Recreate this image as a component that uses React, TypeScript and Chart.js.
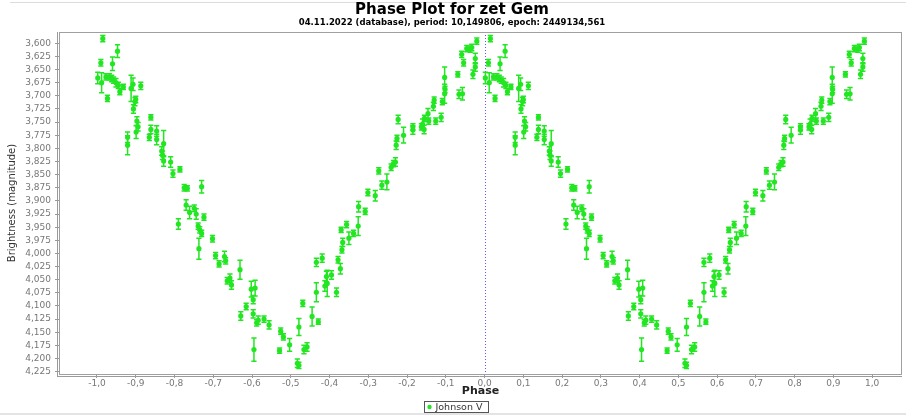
import { useEffect, useRef } from 'react';
import { Chart, registerables } from 'chart.js';

Chart.register(...registerables);

const TITLE = 'Phase Plot for zet Gem';
const SUBTITLE = '04.11.2022 (database), period: 10,149806, epoch: 2449134,561';
const SERIES_NAME = 'Johnson V';
const X_LABEL = 'Phase';
const Y_LABEL = 'Brightness (magnitude)';

// Observations: phase in [0,1), magnitude, magnitude error
const phases = [
  0.015, 0.053, 0.010, 0.040, 0.002, 0.012, 0.023, 0.032, 0.038, 0.043,
  0.049, 0.055, 0.059, 0.068, 0.027, 0.088, 0.093, 0.113, 0.094, 0.098,
  0.100, 0.103, 0.106, 0.101, 0.079, 0.079, 0.139, 0.139, 0.135, 0.154,
  0.154, 0.167, 0.169, 0.172, 0.172, 0.190, 0.196, 0.214, 0.225, 0.233,
  0.270, 0.230, 0.239, 0.251, 0.256, 0.276, 0.210, 0.261, 0.265, 0.270,
  0.263, 0.298, 0.306, 0.315, 0.329, 0.332, 0.369, 0.336, 0.343, 0.347,
  0.398, 0.408, 0.403, 0.385, 0.371, 0.403, 0.412, 0.416, 0.431, 0.444,
  0.405, 0.474, 0.481, 0.471, 0.497, 0.517, 0.521, 0.521, 0.531, 0.534,
  0.542, 0.555, 0.566, 0.571, 0.588, 0.592, 0.594, 0.605, 0.618, 0.566,
  0.581, 0.622, 0.628, 0.632, 0.634, 0.630, 0.644, 0.650, 0.662, 0.674,
  0.675, 0.692, 0.699, 0.718, 0.727, 0.735, 0.748, 0.759, 0.765, 0.770,
  0.772, 0.774, 0.777, 0.791, 0.815, 0.815, 0.837, 0.840, 0.844, 0.845,
  0.854, 0.856, 0.868, 0.870, 0.874, 0.888, 0.891, 0.897, 0.897, 0.898,
  0.931, 0.934, 0.943, 0.941, 0.946, 0.954, 0.963, 0.967, 0.976, 0.976,
  0.970, 0.980,
];

const magnitudes = [
  3.591, 3.615, 3.637, 3.639, 3.666, 3.675, 3.664, 3.664, 3.667, 3.670,
  3.675, 3.680, 3.692, 3.683, 3.705, 3.686, 3.678, 3.681, 3.725, 3.711,
  3.707, 3.748, 3.759, 3.769, 3.779, 3.794, 3.741, 3.764, 3.779, 3.767,
  3.783, 3.805, 3.813, 3.791, 3.824, 3.826, 3.848, 3.840, 3.875, 3.876,
  3.873, 3.908, 3.922, 3.914, 3.925, 3.931, 3.944, 3.948, 3.955, 3.962,
  3.991, 3.972, 4.004, 4.020, 4.006, 4.014, 4.031, 4.052, 4.047, 4.060,
  4.068, 4.066, 4.088, 4.101, 4.119, 4.115, 4.132, 4.127, 4.125, 4.136,
  4.183, 4.148, 4.159, 4.185, 4.174, 4.209, 4.213, 4.140, 4.095, 4.183,
  4.178, 4.120, 4.074, 4.130, 4.062, 4.044, 4.057, 4.041, 4.074, 4.017,
  4.009, 4.012, 4.029, 3.993, 3.979, 3.955, 3.945, 3.971, 3.962, 3.948,
  3.911, 3.920, 3.884, 3.890, 3.843, 3.870, 3.864, 3.836, 3.829, 3.826,
  3.794, 3.781, 3.745, 3.775, 3.765, 3.759, 3.759, 3.754, 3.764, 3.743,
  3.734, 3.748, 3.720, 3.708, 3.748, 3.741, 3.711, 3.696, 3.665, 3.688,
  3.659, 3.697, 3.696, 3.621, 3.637, 3.610, 3.611, 3.608, 3.629, 3.645,
  3.659, 3.596,
];

const errors = [
  0.006, 0.012, 0.006, 0.013, 0.011, 0.019, 0.006, 0.006, 0.006, 0.006,
  0.008, 0.006, 0.006, 0.005, 0.006, 0.025, 0.012, 0.007, 0.008, 0.008,
  0.006, 0.008, 0.008, 0.012, 0.010, 0.018, 0.005, 0.008, 0.006, 0.010,
  0.010, 0.008, 0.008, 0.025, 0.010, 0.010, 0.007, 0.005, 0.006, 0.005,
  0.012, 0.010, 0.012, 0.006, 0.010, 0.006, 0.010, 0.006, 0.006, 0.006,
  0.020, 0.006, 0.006, 0.006, 0.010, 0.006, 0.018, 0.006, 0.008, 0.008,
  0.015, 0.015, 0.008, 0.006, 0.008, 0.008, 0.006, 0.008, 0.006, 0.008,
  0.022, 0.006, 0.006, 0.005, 0.012, 0.008, 0.006, 0.016, 0.006, 0.008,
  0.008, 0.018, 0.018, 0.005, 0.010, 0.010, 0.025, 0.008, 0.008, 0.008,
  0.008, 0.006, 0.010, 0.006, 0.008, 0.005, 0.006, 0.012, 0.006, 0.018,
  0.010, 0.006, 0.006, 0.010, 0.006, 0.008, 0.015, 0.006, 0.006, 0.008,
  0.008, 0.006, 0.008, 0.015, 0.008, 0.006, 0.006, 0.010, 0.008, 0.006,
  0.010, 0.006, 0.008, 0.006, 0.006, 0.008, 0.006, 0.018, 0.020, 0.006,
  0.005, 0.008, 0.012, 0.006, 0.006, 0.006, 0.006, 0.006, 0.010, 0.008,
  0.008, 0.006,
];

const X_MIN = -1.098;
const X_MAX = 1.077;
const Y_MIN = 3.5785;
const Y_MAX = 4.2295;

const GREEN = 'rgb(34, 230, 34)';
const FONT = '"DejaVu Sans", "Noto Sans", sans-serif';

type Pt = { x: number; y: number; e: number };

const errorBarPlugin = {
  id: 'errorBars',
  beforeDatasetsDraw(chart: any) {
    const { ctx, chartArea, scales } = chart;
    const xs = scales.x;
    const ys = scales.y;
    ctx.save();
    // zero-phase marker line
    const zx = Math.round(xs.getPixelForValue(0)) + 0.5;
    ctx.strokeStyle = '#5a5aff';
    ctx.lineWidth = 1;
    ctx.setLineDash([1, 2]);
    ctx.beginPath();
    ctx.moveTo(zx, chartArea.top);
    ctx.lineTo(zx, chartArea.bottom);
    ctx.stroke();
    ctx.setLineDash([]);
    // error bars
    ctx.strokeStyle = GREEN;
    ctx.lineWidth = 1.5;
    const data = chart.data.datasets[0].data as Pt[];
    data.forEach((pt) => {
      const px = xs.getPixelForValue(pt.x);
      const y1 = ys.getPixelForValue(pt.y - pt.e);
      const y2 = ys.getPixelForValue(pt.y + pt.e);
      ctx.beginPath();
      ctx.moveTo(px, y1);
      ctx.lineTo(px, y2);
      ctx.moveTo(px - 2.6, y1);
      ctx.lineTo(px + 2.6, y1);
      ctx.moveTo(px - 2.6, y2);
      ctx.lineTo(px + 2.6, y2);
      ctx.stroke();
    });
    ctx.restore();
  },
};

const framePlugin = {
  id: 'frame',
  beforeDraw(chart: any) {
    const { ctx, width, height } = chart;
    ctx.save();
    ctx.fillStyle = '#ffffff';
    ctx.fillRect(0, 0, width, height);
    ctx.strokeStyle = '#dcdcdc';
    ctx.lineWidth = 1;
    ctx.beginPath();
    ctx.moveTo(10, 2.5);
    ctx.lineTo(width, 2.5);
    ctx.stroke();
    ctx.fillStyle = '#e4e4e4';
    ctx.fillRect(0, height - 2, width, 2);
    ctx.restore();
  },
  afterDraw(chart: any) {
    const { ctx, chartArea } = chart;
    const { left, right, top, bottom } = chartArea;
    ctx.save();
    ctx.lineWidth = 1;
    // plot outline
    ctx.strokeStyle = '#a0a0a0';
    ctx.strokeRect(left + 0.5, top + 0.5, right - left - 1, bottom - top);
    // offset axis lines
    ctx.strokeStyle = '#9a9a9a';
    ctx.beginPath();
    ctx.moveTo(left - 1.5, top);
    ctx.lineTo(left - 1.5, bottom + 2);
    ctx.moveTo(left - 2, bottom + 2.5);
    ctx.lineTo(right, bottom + 2.5);
    ctx.stroke();
    // legend
    const ds = chart.data.datasets[0];
    const lx = 424.5;
    const ly = 401.5;
    ctx.font = `9.5px ${FONT}`;
    const tw = ctx.measureText(ds.label).width;
    ctx.strokeStyle = '#555555';
    ctx.strokeRect(lx, ly, Math.round(tw + 17), 11);
    ctx.fillStyle = GREEN;
    ctx.beginPath();
    ctx.arc(lx + 5, ly + 5.5, 2.2, 0, Math.PI * 2);
    ctx.fill();
    ctx.fillStyle = '#333333';
    ctx.textBaseline = 'middle';
    ctx.textAlign = 'left';
    ctx.fillText(ds.label, lx + 11, ly + 6);
    ctx.restore();
  },
};

const fmt = (v: number, d: number) => {
  const s = (Math.abs(v) < 1e-9 ? 0 : v).toFixed(d);
  return s.replace('.', ',');
};

export default function App() {
  const canvasRef = useRef<HTMLCanvasElement | null>(null);

  useEffect(() => {
    document.body.style.margin = '0';
    const canvas = canvasRef.current;
    if (!canvas) return;

    const points: Pt[] = [
      ...phases.map((p, i) => ({ x: p - 1, y: magnitudes[i], e: errors[i] })),
      ...phases.map((p, i) => ({ x: p, y: magnitudes[i], e: errors[i] })),
    ];

    const chart = new Chart(canvas, {
      type: 'scatter',
      data: {
        datasets: [
          {
            label: SERIES_NAME,
            data: points,
            pointRadius: 2.6,
            pointStyle: 'circle',
            backgroundColor: GREEN,
            borderColor: GREEN,
            borderWidth: 0,
          },
        ],
      },
      plugins: [framePlugin, errorBarPlugin],
      options: {
        animation: false,
        responsive: false,
        events: [],
        layout: { padding: { left: 0, right: 2, top: 0, bottom: 17 } },
        plugins: {
          legend: { display: false },
          tooltip: { enabled: false },
          title: {
            display: true,
            text: TITLE,
            color: '#000000',
            font: { family: FONT, size: 15, weight: 'bold', lineHeight: 1 },
            padding: { top: 3, bottom: 0 },
          },
          subtitle: {
            display: true,
            text: SUBTITLE,
            color: '#000000',
            font: { family: FONT, size: 8.5, weight: 'bold', lineHeight: 1 },
            padding: { top: 1, bottom: 4.5 },
          },
        },
        scales: {
          x: {
            type: 'linear',
            min: X_MIN,
            max: X_MAX,
            afterFit: (scale: any) => {
              scale.height = 24;
            },
            ticks: {
              stepSize: 0.1,
              includeBounds: false,
              color: '#777777',
              font: { family: FONT, size: 9 },
              padding: 0,
              maxRotation: 0,
              autoSkip: false,
              callback: (v: any) => fmt(Number(v), 1),
            },
            grid: {
              display: true,
              drawOnChartArea: false,
              drawTicks: true,
              tickLength: 4,
              color: '#999999',
            },
            border: { display: false },
            title: {
              display: true,
              text: X_LABEL,
              color: '#222222',
              font: { family: FONT, size: 11, weight: 'bold', lineHeight: 1.2 },
              padding: { top: 0, bottom: 0 },
            },
          },
          y: {
            type: 'linear',
            reverse: true,
            min: Y_MIN,
            max: Y_MAX,
            afterFit: (scale: any) => {
              scale.width = 59;
            },
            ticks: {
              stepSize: 0.025,
              includeBounds: false,
              color: '#777777',
              font: { family: FONT, size: 9 },
              padding: 4,
              autoSkip: false,
              callback: (v: any) => fmt(Number(v), 3),
            },
            grid: {
              display: true,
              drawOnChartArea: false,
              drawTicks: true,
              tickLength: 4,
              color: '#999999',
            },
            border: { display: false },
            title: {
              display: true,
              text: Y_LABEL,
              color: '#333333',
              font: { family: FONT, size: 10, lineHeight: 1.2 },
              padding: { top: 6, bottom: 0 },
            },
          },
        },
      },
    } as any);

    return () => chart.destroy();
  }, []);

  return (
    <div style={{ position: 'fixed', left: 0, top: 0, width: 906, height: 415, background: '#fff' }}>
      <canvas ref={canvasRef} width={906} height={415} style={{ width: 906, height: 415, display: 'block' }} />
    </div>
  );
}
